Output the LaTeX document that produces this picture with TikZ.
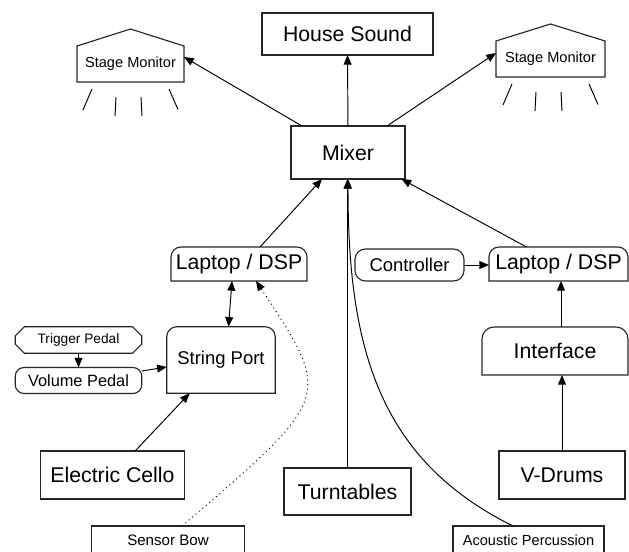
\documentclass[tikz,border=0pt]{standalone}
\usepackage{fontspec}
\setmainfont{Liberation Sans}
\usetikzlibrary{arrows.meta,shapes.misc,calc}

% box with rounded top corners and square bottom
\newcommand{\roundtop}[2][0.2cm]{%
  \draw[outline] (#2.south west) -- ([yshift=-#1]#2.north west)
    arc[start angle=180, end angle=90, radius=#1]
    -- ([xshift=-#1]#2.north east)
    arc[start angle=90, end angle=0, radius=#1]
    -- (#2.south east) -- cycle;}

% wedge roof and sound rays for a stage monitor
\newcommand{\stagemon}[1]{%
  \draw[outline] (#1.south west) -- (#1.north west) -- ([yshift=0.34cm]#1.north)
    -- (#1.north east) -- (#1.south east) -- cycle;
  \foreach \ax/\ay/\bx/\by in {-0.77/-0.14/-0.95/-0.56, -0.29/-0.3/-0.31/-0.68,
                               0.21/-0.3/0.23/-0.68, 0.77/-0.14/0.95/-0.55}
    \draw[ray] ($(#1.south)+(\ax,\ay)$) -- ($(#1.south)+(\bx,\by)$);}

\begin{document}
\begin{tikzpicture}[
    outline/.style={draw=black!85, line width=0.65pt},
    box/.style={outline, inner sep=0pt, outer sep=0pt, align=center, font=\fontsize{12.1}{14}\selectfont},
    tbox/.style={box, draw=none},
    small/.style={font=\fontsize{8.3}{10}\selectfont},
    mid/.style={font=\fontsize{10.5}{12}\selectfont},
    pill/.style={box, rounded corners=6pt},
    cut/.style={box, chamfered rectangle, chamfered rectangle xsep=2.6pt, chamfered rectangle ysep=2.6pt},
    arr/.style={-{Triangle[length=5.5pt, width=4.5pt]}, line width=0.55pt},
    darr/.style={{Triangle[length=5.5pt, width=4.5pt]}-{Triangle[length=5.5pt, width=4.5pt]}, line width=0.55pt},
    ray/.style={line width=0.55pt},
]
\useasboundingbox (0,0) rectangle (12.58,-11.02);

% outputs
\node[box, minimum width=3.42cm, minimum height=0.84cm] (house) at (6.95,-0.68) {House Sound};
\node[tbox, small, minimum width=2.14cm, minimum height=0.72cm] (monL) at (2.61,-1.28) {Stage Monitor};
\node[tbox, small, minimum width=2.18cm, minimum height=0.72cm] (monR) at (11.01,-1.18) {Stage Monitor};
\node[box, minimum width=2.28cm, minimum height=1.06cm] (mixer) at (6.96,-3.05) {Mixer};
\stagemon{monL}
\stagemon{monR}

% processing
\node[tbox, minimum width=2.72cm, minimum height=0.68cm] (lapL) at (4.78,-5.28) {Laptop / DSP};
\node[tbox, minimum width=2.78cm, minimum height=0.68cm] (lapR) at (11.17,-5.28) {Laptop / DSP};
\node[pill, mid, minimum width=2.18cm, minimum height=0.64cm] (ctrl) at (8.19,-5.30) {Controller};
\node[tbox, minimum width=2.92cm, minimum height=0.96cm] (iface) at (11.10,-7.02) {Interface};
\node[tbox, mid, minimum width=2.17cm, minimum height=1.33cm] (sport) at (4.42,-7.20) {String Port};
\node[cut, font=\fontsize{7.8}{9}\selectfont, minimum width=2.53cm, minimum height=0.53cm] (trig) at (1.57,-6.80) {Trigger Pedal};
\node[pill, rounded corners=5pt, font=\fontsize{9.3}{11}\selectfont, minimum width=2.53cm, minimum height=0.52cm] (vol) at (1.57,-7.61) {Volume Pedal};
\roundtop{lapL}
\roundtop{lapR}
\roundtop[0.24cm]{iface}
\roundtop{sport}

% sources
\node[box, minimum width=2.87cm, minimum height=0.96cm] (cello) at (2.25,-9.50) {Electric Cello};
\node[box, minimum width=2.54cm, minimum height=0.94cm] (turn) at (6.95,-9.83) {Turntables};
\node[box, minimum width=2.52cm, minimum height=0.96cm] (vdrums) at (11.24,-9.50) {V-Drums};
\node[box, font=\fontsize{8.6}{10}\selectfont, minimum width=3.05cm, minimum height=0.56cm] (bow) at (3.36,-10.8) {Sensor Bow};
\node[box, small, minimum width=3.02cm, minimum height=0.56cm] (perc) at (10.57,-10.8) {Acoustic Percussion};

% connections
\draw[arr] (mixer) -- (house);
\draw[arr] ([xshift=0.22cm]mixer.north west) -- ([yshift=0.14cm]monL.east);
\draw[arr] ([xshift=-0.36cm]mixer.north east) -- ([yshift=0.12cm]monR.west);
\draw[arr] ([xshift=0.42cm]lapL.north) -- ([xshift=-0.52cm]mixer.south);
\draw[arr] ([xshift=-0.64cm]lapR.north) -- ([xshift=-0.07cm]mixer.south east);
\draw[arr] (turn) -- (turn |- mixer.south);
\draw[arr] ([xshift=-0.31cm]perc.north) .. controls (7.6,-9.2) and (6.96,-7.0) .. (mixer.south);
\draw[arr] (ctrl) -- (ctrl -| lapR.west);
\draw[arr] (vdrums) -- (vdrums |- iface.south);
\draw[arr] ([xshift=0.12cm]iface.north) -- ([xshift=0.12cm]iface.north |- lapR.south);
\draw[darr] ([xshift=-0.14cm]lapL.south) -- ([xshift=0.15cm]sport.north);
\draw[arr] (trig) -- (vol);
\draw[arr] ([yshift=0.19cm]vol.east) -- ([yshift=-0.14cm]sport.west);
\draw[arr] (cello) -- (sport);
\draw[arr, dotted] ([xshift=0.28cm]bow.north) .. controls (6.66,-7.94) .. ([xshift=0.34cm]lapL.south);

\end{tikzpicture}
\end{document}
